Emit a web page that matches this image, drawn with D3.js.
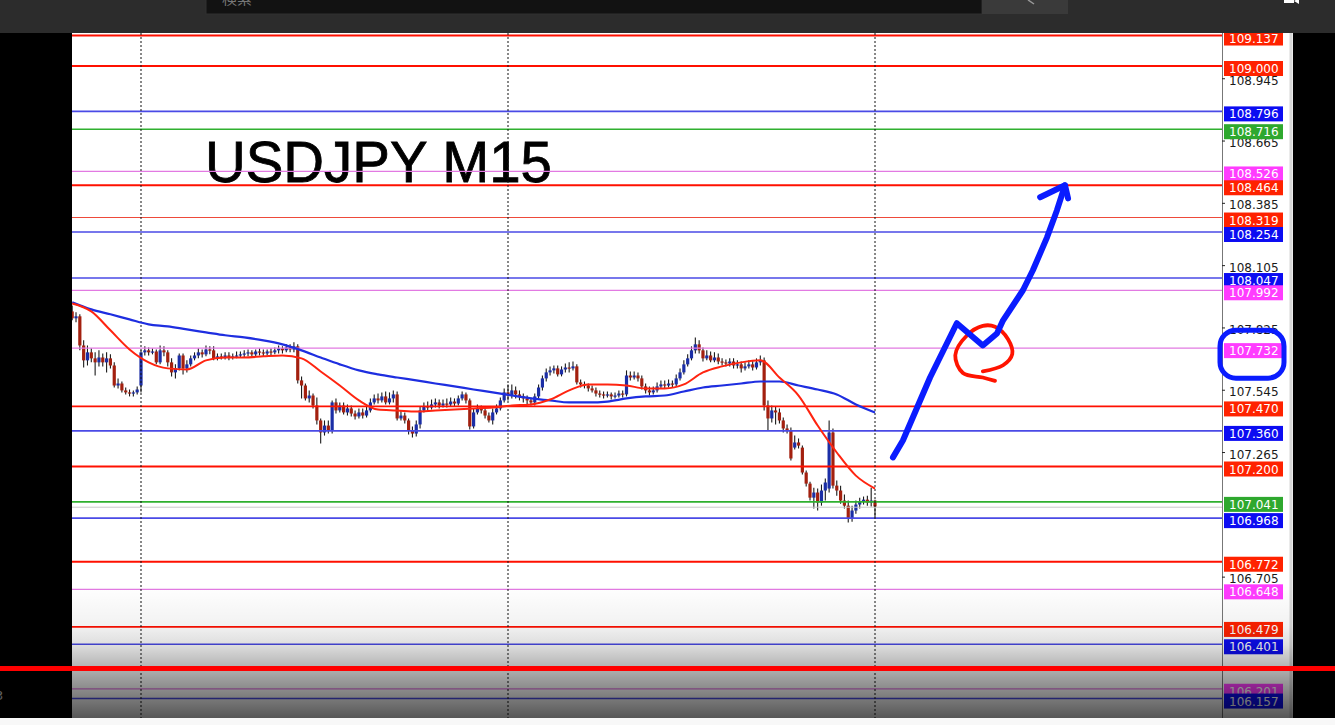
<!DOCTYPE html>
<html><head><meta charset="utf-8">
<script src="https://cdn.jsdelivr.net/npm/d3@7"></script>
<style>html,body{margin:0;padding:0;background:#000;overflow:hidden}</style>
</head><body><svg id="c" width="1335" height="725"></svg>
<script>
const title = "USDJPY M15";
const searchText = "検索";
const tickValues = [108.945,108.665,108.385,108.105,107.825,107.545,107.265,106.705];
const levelPrices = [109.137,109.000,108.796,108.716,108.526,108.464,108.319,108.254,108.047,107.992,107.732,107.470,107.360,107.200,107.041,106.968,106.772,106.648,106.479,106.401,106.201,106.157];
const levelKinds  = ["r","r","b","g","m","r","r2","b","b","m","m","r","b","r","g","b","r","m","r","b","m","b"];
const currentPrice = 107.017;
const separatorBars = [18,114,210];
const maBars = [0,5,10,15,20,25,30,35,40,45,50,55,60,65,70,75,80,85,90,95,100,105,110,115,120,125,130,135,140,145,150,155,160,165,170,175,180,185,190,195,200,205,210];
const maFast = [107.933,107.897,107.812,107.726,107.668,107.641,107.636,107.677,107.690,107.690,107.695,107.699,107.686,107.627,107.564,107.497,107.456,107.452,107.447,107.452,107.456,107.461,107.465,107.474,107.479,107.501,107.542,107.569,107.569,107.564,107.551,107.551,107.569,107.623,107.650,107.668,107.677,107.600,107.519,107.384,107.263,107.159,107.101];
const maSlow = [107.938,107.906,107.884,107.861,107.839,107.830,107.816,107.803,107.790,107.780,107.767,107.749,107.722,107.690,107.659,107.632,107.614,107.600,107.587,107.573,107.560,107.546,107.533,107.519,107.506,107.497,107.488,107.488,107.492,107.506,107.515,107.519,107.537,107.555,107.564,107.573,107.582,107.582,107.564,107.546,107.524,107.479,107.443];
// [open, high, low, close] per M15 bar
const candles = [
[107.897,107.924,107.857,107.866],[107.866,107.893,107.848,107.875],[107.875,107.884,107.722,107.744],[107.744,107.767,107.645,107.677],[107.677,107.744,107.654,107.713],
[107.713,107.731,107.668,107.686],[107.686,107.713,107.609,107.668],[107.668,107.722,107.650,107.690],[107.690,107.708,107.650,107.668],[107.668,107.713,107.623,107.686],
[107.686,107.704,107.641,107.654],[107.654,107.668,107.555,107.564],[107.564,107.596,107.551,107.573],[107.573,107.582,107.533,107.542],[107.542,107.555,107.524,107.533],
[107.533,107.546,107.515,107.528],[107.528,107.542,107.515,107.533],[107.533,107.560,107.524,107.546],[107.564,107.722,107.533,107.713],[107.713,107.740,107.699,107.722],
[107.722,107.735,107.699,107.713],[107.713,107.731,107.704,107.717],[107.717,107.726,107.659,107.668],[107.668,107.744,107.659,107.722],[107.722,107.740,107.695,107.713],
[107.713,107.722,107.650,107.668],[107.668,107.686,107.605,107.623],[107.623,107.659,107.596,107.641],[107.641,107.708,107.632,107.699],[107.699,107.708,107.614,107.641],
[107.641,107.677,107.623,107.659],[107.659,107.699,107.650,107.686],[107.686,107.713,107.677,107.699],[107.699,107.731,107.686,107.713],[107.713,107.726,107.690,107.704],
[107.704,107.744,107.695,107.726],[107.726,107.740,107.704,107.722],[107.722,107.740,107.677,107.686],[107.686,107.708,107.677,107.695],[107.695,107.708,107.681,107.690],
[107.690,107.713,107.681,107.699],[107.699,107.713,107.677,107.690],[107.690,107.708,107.681,107.695],[107.695,107.717,107.686,107.699],[107.699,107.717,107.690,107.704],
[107.704,107.722,107.690,107.708],[107.708,107.726,107.695,107.713],[107.713,107.722,107.695,107.704],[107.704,107.726,107.695,107.717],[107.717,107.731,107.699,107.713],
[107.713,107.726,107.695,107.708],[107.708,107.726,107.699,107.717],[107.717,107.731,107.699,107.713],[107.713,107.735,107.704,107.722],[107.722,107.744,107.708,107.731],
[107.731,107.740,107.708,107.722],[107.722,107.749,107.713,107.735],[107.735,107.749,107.713,107.726],[107.726,107.758,107.713,107.740],[107.740,107.749,107.573,107.587],
[107.587,107.605,107.506,107.564],[107.564,107.573,107.497,107.506],[107.506,107.542,107.488,107.519],[107.519,107.528,107.461,107.474],[107.474,107.510,107.389,107.407],
[107.407,107.416,107.303,107.353],[107.353,107.407,107.339,107.384],[107.384,107.407,107.348,107.362],[107.362,107.497,107.348,107.488],[107.488,107.506,107.438,107.452],
[107.452,107.488,107.443,107.474],[107.474,107.488,107.434,107.443],[107.443,107.479,107.429,107.461],[107.461,107.474,107.425,107.438],[107.438,107.452,107.411,107.425],
[107.425,107.461,107.416,107.443],[107.443,107.461,107.416,107.429],[107.429,107.470,107.420,107.452],[107.452,107.506,107.443,107.488],[107.488,107.524,107.479,107.506],
[107.506,107.528,107.483,107.497],[107.497,107.533,107.488,107.515],[107.515,107.537,107.479,107.488],[107.488,107.533,107.479,107.506],[107.506,107.542,107.488,107.524],
[107.524,107.537,107.407,107.416],[107.416,107.452,107.407,107.429],[107.429,107.443,107.393,107.407],[107.407,107.416,107.344,107.362],[107.362,107.380,107.330,107.348],
[107.348,107.407,107.335,107.389],[107.389,107.470,107.371,107.452],[107.452,107.488,107.443,107.470],[107.470,107.492,107.452,107.465],[107.465,107.501,107.456,107.479],
[107.479,107.506,107.465,107.488],[107.488,107.501,107.461,107.474],[107.474,107.501,107.465,107.483],[107.483,107.506,107.465,107.479],[107.479,107.510,107.470,107.492],
[107.492,107.506,107.470,107.483],[107.483,107.519,107.474,107.506],[107.506,107.537,107.497,107.524],[107.524,107.533,107.483,107.497],[107.497,107.506,107.366,107.380],
[107.380,107.461,107.371,107.443],[107.443,107.479,107.434,107.461],[107.461,107.474,107.438,107.452],[107.452,107.470,107.416,107.429],[107.429,107.443,107.398,107.407],
[107.407,107.461,107.389,107.443],[107.443,107.479,107.434,107.461],[107.461,107.510,107.452,107.497],[107.497,107.551,107.488,107.533],[107.533,107.569,107.497,107.519],
[107.519,107.569,107.506,107.542],[107.542,107.560,107.506,107.524],[107.524,107.542,107.497,107.515],[107.515,107.528,107.488,107.506],[107.506,107.519,107.479,107.497],
[107.497,107.510,107.474,107.488],[107.488,107.528,107.474,107.515],[107.515,107.569,107.506,107.555],[107.555,107.609,107.542,107.596],[107.596,107.641,107.582,107.623],
[107.623,107.650,107.609,107.632],[107.632,107.654,107.618,107.641],[107.641,107.654,107.605,107.614],[107.614,107.650,107.605,107.636],[107.636,107.663,107.623,107.645],
[107.645,107.668,107.623,107.641],[107.641,107.672,107.632,107.650],[107.650,107.659,107.569,107.578],[107.578,107.591,107.555,107.569],[107.569,107.582,107.551,107.564],
[107.564,107.573,107.537,107.551],[107.551,107.564,107.533,107.542],[107.542,107.555,107.515,107.528],[107.528,107.542,107.510,107.524],[107.524,107.537,107.506,107.519],
[107.519,107.537,107.510,107.524],[107.524,107.533,107.501,107.515],[107.515,107.533,107.506,107.519],[107.519,107.542,107.510,107.528],[107.528,107.542,107.510,107.524],
[107.524,107.632,107.515,107.609],[107.609,107.627,107.587,107.600],[107.600,107.627,107.591,107.609],[107.609,107.623,107.582,107.596],[107.596,107.609,107.546,107.560],
[107.560,107.573,107.528,107.542],[107.542,107.560,107.519,107.533],[107.533,107.560,107.524,107.542],[107.542,107.578,107.533,107.560],[107.560,107.587,107.551,107.569],
[107.569,107.587,107.551,107.564],[107.564,107.591,107.555,107.573],[107.573,107.587,107.555,107.569],[107.569,107.614,107.560,107.596],[107.596,107.641,107.587,107.623],
[107.623,107.677,107.614,107.659],[107.659,107.704,107.650,107.686],[107.686,107.740,107.677,107.722],[107.722,107.780,107.708,107.749],[107.749,107.767,107.708,107.722],
[107.722,107.735,107.672,107.686],[107.686,107.722,107.677,107.699],[107.699,107.717,107.668,107.677],[107.677,107.713,107.668,107.690],[107.690,107.708,107.659,107.672],
[107.672,107.686,107.654,107.668],[107.668,107.681,107.650,107.663],[107.663,107.686,107.650,107.672],[107.672,107.686,107.641,107.654],[107.654,107.677,107.641,107.659],
[107.659,107.672,107.623,107.641],[107.641,107.668,107.632,107.650],[107.650,107.677,107.641,107.659],[107.659,107.677,107.632,107.645],[107.645,107.686,107.636,107.668],
[107.668,107.699,107.654,107.677],[107.677,107.690,107.452,107.474],[107.474,107.497,107.362,107.416],[107.416,107.474,107.398,107.452],[107.452,107.470,107.389,107.443],
[107.443,107.461,107.393,107.407],[107.407,107.420,107.353,107.371],[107.371,107.389,107.348,107.362],[107.362,107.375,107.227,107.236],[107.285,107.339,107.276,107.308],
[107.308,107.326,107.281,107.294],[107.285,107.294,107.164,107.173],[107.173,107.182,107.110,107.123],[107.123,107.132,107.047,107.060],[107.060,107.105,107.011,107.083],
[107.083,107.101,107.002,107.038],[107.038,107.119,107.024,107.092],[107.092,107.146,107.047,107.128],[107.101,107.407,107.083,107.353],[107.353,107.371,107.101,107.114],
[107.114,107.137,107.069,107.092],[107.092,107.114,107.033,107.047],[107.047,107.074,107.011,107.024],[107.024,107.047,106.948,106.966],[106.966,107.024,106.952,107.002],
[107.002,107.047,106.988,107.029],[107.029,107.060,107.011,107.042],[107.042,107.065,107.029,107.051],[107.051,107.069,107.024,107.038],[107.038,107.105,107.020,107.047],
[107.047,107.051,106.970,107.020]
];
// hand-drawn annotations, as [bar index, price]
const arrowStroke = [[214.7,107.241],[217.3,107.317],[224.4,107.600],[231.4,107.844],[238.2,107.744],[241.9,107.798],[243.5,107.857],[248.7,107.992],[251.3,108.082],[255.0,108.230],[257.6,108.352],[259.7,108.464]];
const arrowHead = [[253.2,108.410],[259.7,108.464],[260.5,108.405]];
const circleStroke = [[241.4,107.585],[238.2,107.600],[233.0,107.620],[231.0,107.700],[234.1,107.790],[238.2,107.832],[241.4,107.828],[244.8,107.772],[245.9,107.705],[243.5,107.655],[238.2,107.628]];
const circledLabel = 107.732;

const kindLine  = {r:"#ff1000", r2:"#ee4a3a", b:"#4a4ae6", g:"#2fb02f", m:"#e27ae2"};
const kindWidth = {r:1.8, r2:1.1, b:1.6, g:1.6, m:1.3};
const kindLabel = {r:"#ff2200", r2:"#ff2200", b:"#0c0cf2", g:"#2ea82e", m:"#ff3cff"};

const svg = d3.select("#c");
const W = 1335, H = 725;
const L = 72, R = 1222, T = 33, B = 718;
const x = d3.scaleLinear().domain([18,114]).range([141,508]);
const y = d3.scaleLinear().domain([109,107]).range([66,511]);

const defs = svg.append("defs");
defs.append("clipPath").attr("id","plot").append("rect").attr("x",L).attr("y",T).attr("width",R-L).attr("height",B-T);
const g = defs.append("linearGradient").attr("id","shade").attr("x1",0).attr("y1",0).attr("x2",0).attr("y2",1);
[[0,0],[0.3,0.05],[0.45,0.13],[0.7,0.38],[1,0.66]].forEach(s=>g.append("stop").attr("offset",s[0]).attr("stop-color","#000").attr("stop-opacity",s[1]));

// frame
svg.append("rect").attr("width",W).attr("height",H).attr("fill","#000");
svg.append("rect").attr("x",L).attr("y",T).attr("width",1293-L).attr("height",B-T).attr("fill","#fff");
svg.append("line").attr("x1",1291).attr("x2",1291).attr("y1",T).attr("y2",B).attr("stroke","#d8d8d8").attr("stroke-width",3);

const plot = svg.append("g").attr("clip-path","url(#plot)");

plot.append("text").attr("x",205).attr("y",182).attr("font-family","Liberation Sans, Arial, sans-serif")
  .attr("font-size",58).attr("textLength",347).attr("lengthAdjust","spacingAndGlyphs")
  .attr("fill","#000").attr("stroke","#000").attr("stroke-width",0.8).text(title);

// candles
const cg = plot.append("g");
candles.forEach((d,i)=>{
  const [o,h,l,c] = d; const up = c>=o; const cx = x(i);
  cg.append("line").attr("x1",cx).attr("x2",cx).attr("y1",y(h)).attr("y2",y(l)).attr("stroke","#1a1a1a").attr("stroke-width",1.1);
  const top = y(Math.max(o,c)), bot = y(Math.min(o,c));
  cg.append("rect").attr("x",cx-1.6).attr("width",3.2).attr("y",top).attr("height",Math.max(1.2,bot-top))
    .attr("fill",up?"#1b2ea6":"#a3200f");
});

// levels
plot.append("line").attr("x1",L).attr("x2",R).attr("y1",y(currentPrice)).attr("y2",y(currentPrice)).attr("stroke","#c9c9c9").attr("stroke-width",1);
levelPrices.forEach((p,i)=>{
  const k = levelKinds[i];
  plot.append("line").attr("x1",L).attr("x2",R).attr("y1",y(p)).attr("y2",y(p))
    .attr("stroke",kindLine[k]).attr("stroke-width",kindWidth[k]);
});

// period separators
separatorBars.forEach(b=>{
  plot.append("line").attr("x1",x(b)).attr("x2",x(b)).attr("y1",T).attr("y2",B)
    .attr("stroke","#111").attr("stroke-width",1).attr("stroke-dasharray","2,2");
});

// moving averages
const maLine = vals => d3.line().x((d,i)=>x(maBars[i])).y(d=>y(d)).curve(d3.curveMonotoneX)(vals);
plot.append("path").attr("d",maLine(maSlow)).attr("fill","none").attr("stroke","#1e2ee0").attr("stroke-width",2.2);
plot.append("path").attr("d",maLine(maFast)).attr("fill","none").attr("stroke","#ff2410").attr("stroke-width",2);

// annotations
const pl = d3.line().x(d=>x(d[0])).y(d=>y(d[1]));
plot.append("path").attr("d",pl.curve(d3.curveCatmullRom)(circleStroke)).attr("fill","none").attr("stroke","#ff1400").attr("stroke-width",3.8).attr("stroke-linecap","round").attr("stroke-linejoin","round");
plot.append("path").attr("d",pl.curve(d3.curveLinear)(arrowStroke)).attr("fill","none").attr("stroke","#0a1cff").attr("stroke-width",6).attr("stroke-linecap","round").attr("stroke-linejoin","round");
plot.append("path").attr("d",pl.curve(d3.curveLinear)(arrowHead)).attr("fill","none").attr("stroke","#0a1cff").attr("stroke-width",6).attr("stroke-linecap","round").attr("stroke-linejoin","round");

// right axis
const ax = svg.append("g").attr("transform",`translate(${R},0)`)
  .call(d3.axisRight(y).tickValues(tickValues).tickSize(3).tickFormat(d3.format(".3f")));
ax.select(".domain").attr("stroke","#777").attr("d",`M0.5,${T}V${B}`);
ax.selectAll(".tick line").attr("stroke","#222");
ax.selectAll(".tick text").attr("x",7).attr("dy","0.5em").attr("font-family","DejaVu Sans, Verdana, sans-serif").attr("font-size",12).attr("fill","#1a1a1a");

const lg = svg.append("g");
levelPrices.forEach((p,i)=>{
  const k = levelKinds[i];
  lg.append("rect").attr("x",R+2).attr("y",y(p)-5).attr("width",59).attr("height",15).attr("fill",kindLabel[k]);
  lg.append("text").attr("x",R+7).attr("y",y(p)+7).attr("font-family","DejaVu Sans, Verdana, sans-serif").attr("font-size",12).attr("fill","#fff").text(d3.format(".3f")(p));
});
// blue hand-drawn ring around the label
svg.append("rect").attr("x",1220).attr("y",y(circledLabel)-18).attr("width",64).attr("height",48).attr("rx",16)
  .attr("fill","none").attr("stroke","#0a1cff").attr("stroke-width",5);

// header
svg.append("rect").attr("x",0).attr("y",0).attr("width",W).attr("height",T).attr("fill","#2c2c2c");
svg.append("rect").attr("x",206).attr("y",-2).attr("width",776).attr("height",16).attr("fill","#121212").attr("stroke","#303030");
svg.append("rect").attr("x",982).attr("y",-2).attr("width",86).attr("height",16).attr("fill","#3a3a3a");
svg.append("text").attr("x",222).attr("y",4).attr("font-family","Noto Sans CJK JP, sans-serif").attr("font-size",15).attr("fill","#777").text(searchText);
svg.append("line").attr("x1",1028).attr("x2",1034).attr("y1",0).attr("y2",4).attr("stroke","#999").attr("stroke-width",1.5);
svg.append("rect").attr("x",1284).attr("y",-3).attr("width",10).attr("height",6).attr("fill","#fff");
svg.append("path").attr("d","M1294,1 L1299,-2 L1299,4 Z").attr("fill","#fff");

// player shading, progress bar, bottom strip
svg.append("text").attr("x",-5).attr("y",700).attr("font-family","DejaVu Sans, sans-serif").attr("font-size",13).attr("fill","#bbb").text("3");
svg.append("rect").attr("x",0).attr("y",585).attr("width",W).attr("height",B-585).attr("fill","url(#shade)");
svg.append("rect").attr("x",0).attr("y",666).attr("width",W).attr("height",5).attr("fill","#ff0000");
svg.append("rect").attr("x",0).attr("y",B).attr("width",W).attr("height",H-B).attr("fill","#f8f8f8");
</script></body></html>
